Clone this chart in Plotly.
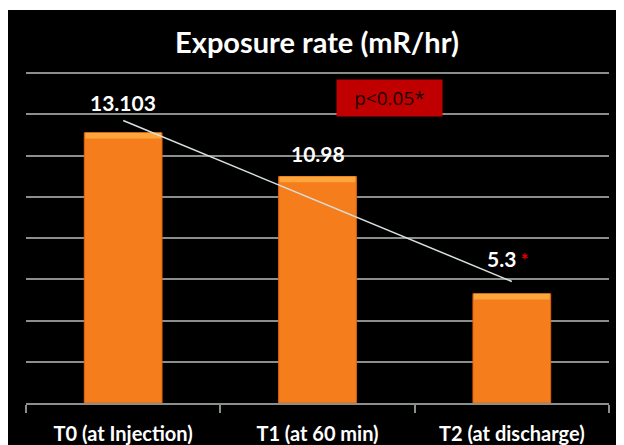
import numpy as np
import plotly.graph_objects as go

categories = ["T0 (at Injection)", "T1 (at 60 min)", "T2 (at discharge)"]
values = [13.103, 10.98, 5.3]
value_labels = ["13.103", "10.98", "5.3"]
label_marks = ["", "", "*"]
title_text = "Exposure rate (mR/hr)"
p_text = "p<0.05*"

# the page body adds an 8px white margin on top/left, so the figure
# starts at page pixel (8, 8)
W, H = 616, 437
L, R, T, B = 18, 15, 64, 42
pw, ph = W - L - R, H - T - B

fig = go.Figure()

fig.add_trace(go.Bar(
    x=categories, y=values,
    marker=dict(color="#F57D1C", line=dict(color="#E06410", width=1)),
    width=0.4, hoverinfo="skip", showlegend=False,
))

# bevel highlight along the top edge of each bar
bevel = 0.28
fig.add_trace(go.Bar(
    x=categories, y=[bevel] * len(values), base=[v - bevel for v in values],
    marker=dict(color="#FDA63C", line=dict(width=0)),
    width=0.39, hoverinfo="skip", showlegend=False,
))

# linear trend line through the bar values
xi = np.arange(len(values))
slope, intercept = np.polyfit(xi, values, 1)
trend = slope * xi + intercept
fig.add_trace(go.Scatter(
    x=[categories[0], categories[-1]], y=[trend[0], trend[-1]],
    mode="lines", line=dict(color="#D8E0E0", width=1.5),
    hoverinfo="skip", showlegend=False,
))

label_shifts = [16, 9, 21]
label_xshift = [0, 0, -4]
for c, v, t, m, s, dx in zip(categories, values, value_labels, label_marks, label_shifts, label_xshift):
    txt = t + (f"<span style='color:#E00000;font-size:18px'> {m}</span>" if m else "")
    fig.add_annotation(x=c, y=v, text=f"<b>{txt}</b>", showarrow=False,
                       yanchor="bottom", yshift=s, xshift=dx,
                       font=dict(family="Lato", size=21, color="white"))

fig.add_annotation(
    xref="paper", yref="paper",
    x=(381.5 - L) / pw, y=1 - (90 - T) / ph,
    text=p_text, showarrow=False, xanchor="center", yanchor="middle",
    width=101, height=32, bgcolor="#C00000", borderpad=2,
    font=dict(family="Open Sans", size=19, color="#1a0000"),
)

# thin white strip at the very top of the slide
fig.add_shape(type="rect", xref="paper", yref="paper", layer="below",
              x0=-L / pw - 0.01, x1=1 + R / pw + 0.01,
              y0=1 + (T - 2) / ph, y1=1 + T / ph + 0.01,
              fillcolor="white", line=dict(width=0))

fig.update_layout(
    width=W, height=H,
    margin=dict(l=L, r=R, t=T, b=B, pad=0, autoexpand=False),
    paper_bgcolor="black", plot_bgcolor="black",
    bargap=0.6, barmode="overlay",
    title=dict(text=f"<b>{title_text}</b>", x=309 / W, xanchor="center",
               y=1 - 35 / H, yanchor="middle", yref="container", automargin=False,
               font=dict(family="Lato", size=29, color="white")),
    xaxis=dict(showgrid=False, showline=True, linecolor="#8a8f8a", linewidth=1.5,
               ticks="outside", tickson="boundaries", ticklen=8, tickcolor="#8a8f8a",
               tickwidth=1.5, ticklabelstandoff=12, automargin=False,
               tickfont=dict(family="Lato", size=20, color="white", weight="bold")),
    yaxis=dict(range=[0, 16.05], tick0=0, dtick=2, showticklabels=False, showgrid=True,
               gridcolor="#8a8f8a", gridwidth=1.5, zeroline=False, showline=False,
               automargin=False),
)

fig.write_html("out.html")
